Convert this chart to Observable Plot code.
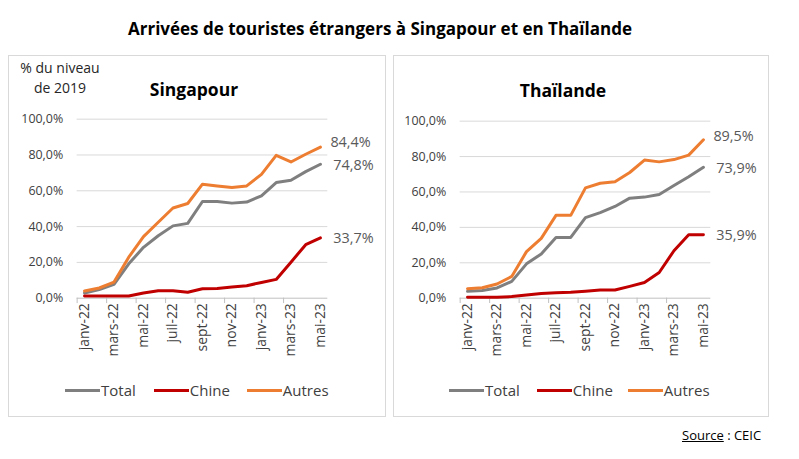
<!DOCTYPE html>
<html>
<head>
<meta charset="utf-8">
<script src="https://cdn.jsdelivr.net/npm/d3@7"></script>
<script src="https://cdn.jsdelivr.net/npm/@observablehq/plot@0.6"></script>
<style>
  html, body { margin: 0; padding: 0; background: #fff; }
  body { width: 799px; height: 459px; position: relative; overflow: hidden; font-family: "Open Sans", sans-serif; color: #595959; }
  #title { position: absolute; top: 17px; left: 0; width: 760px; text-align: center; font-weight: 700; font-size: 17px; color: #000; }
  .panel { position: absolute; border: 1px solid #d9d9d9; box-sizing: border-box; }
  .panel svg { position: absolute; left: 0; top: 0; }
  .ptitle { position: absolute; font-weight: 700; font-size: 17.5px; color: #000; white-space: nowrap; transform: translate(-50%, -50%); }
  .unit { position: absolute; font-size: 14px; color: #262626; text-align: center; line-height: 20px; white-space: nowrap; transform: translateX(-50%); }
  .legend { position: absolute; display: flex; align-items: center; font-size: 15px; color: #404040; white-space: nowrap; }
  .legend .sw { display: inline-block; width: 35px; height: 3px; margin-right: 1px; }
  .legend .item { display: flex; align-items: center; }
  #source { position: absolute; left: 682px; top: 426px; font-size: 13px; color: #000; white-space: nowrap; }
  #source u { text-decoration: underline; }
</style>
</head>
<body>
<div id="title">Arrivées de touristes étrangers à Singapour et en Thaïlande</div>
<div id="source"><u>Source</u> : CEIC</div>
<script>
// ---- Data ----
const months = ["janv-22","févr-22","mars-22","avr-22","mai-22","juin-22","juil-22","août-22","sept-22","oct-22","nov-22","déc-22","janv-23","févr-23","mars-23","avr-23","mai-23"];
const yTicks = [0, 20, 40, 60, 80, 100];
const seriesNames = ["Total", "Chine", "Autres"];
const seriesColors = ["#7f7f7f", "#c00000", "#ed7d31"];

const sgTotal  = [2.9, 4.8, 7.7, 19.2, 28.4, 34.9, 40.4, 41.8, 54.0, 54.0, 53.1, 53.7, 57.2, 64.6, 65.9, 70.7, 74.8];
const sgChine  = [1.2, 1.2, 1.2, 1.2, 2.9, 4.2, 4.2, 3.3, 5.3, 5.4, 6.2, 7.0, 8.8, 10.5, 20.1, 29.9, 33.7];
const sgAutres = [4.0, 5.7, 9.0, 22.9, 34.4, 42.4, 50.4, 52.9, 63.7, 62.7, 61.8, 62.7, 69.2, 79.8, 76.1, 80.4, 84.4];

const thTotal  = [3.9, 4.4, 5.8, 9.5, 19.4, 25.0, 34.3, 34.3, 45.5, 48.3, 51.8, 56.5, 57.1, 58.6, 63.6, 68.6, 73.9];
const thChine  = [0.5, 0.5, 0.6, 0.9, 1.8, 2.6, 3.1, 3.3, 3.9, 4.6, 4.6, 6.7, 8.9, 14.5, 26.8, 35.9, 35.9];
const thAutres = [5.4, 5.9, 8.0, 12.3, 26.3, 33.8, 46.8, 46.8, 62.3, 64.9, 65.8, 71.0, 78.0, 77.0, 78.3, 80.8, 89.5];

// ---- Helpers ----
const fmt = v => v.toFixed(1).replace(".", ",") + "%";
const idx = d3.range(months.length);
const labelIdx = idx.filter(i => i % 2 === 0);
const boundaries = labelIdx.slice(0, -1).map(i => i - 0.5);

function panelPlot(opts) {
  const values = [opts.total, opts.chine, opts.autres];
  const rows = [];
  values.forEach((arr, s) => arr.forEach((v, i) => rows.push({s, i, v})));
  const last = values.map((arr, s) => ({s, i: arr.length - 1, v: arr[arr.length - 1], dx: opts.endDx[s], dy: opts.endDy[s]}));
  return Plot.plot({
    width: opts.width, height: opts.height,
    marginLeft: opts.ml, marginRight: opts.mr, marginTop: opts.mt, marginBottom: opts.mb,
    style: {fontFamily: "Open Sans", fontSize: "12px", color: "#404040", background: "transparent", overflow: "visible"},
    x: {type: "linear", domain: [-0.5, months.length - 0.5]},
    y: {domain: [0, 100]},
    marks: [
      Plot.ruleY(yTicks.filter(d => d > 0), {stroke: "#d9d9d9", strokeWidth: 1}),
      Plot.ruleY([0], {stroke: "#bfbfbf", strokeWidth: 1}),
      Plot.ruleX(boundaries, {y1: 0, y2: -3, stroke: "#bfbfbf", strokeWidth: 1}),
      Plot.axisY({ticks: yTicks, tickSize: 0, tickPadding: 14, tickFormat: fmt, label: null, fontSize: 12.5, fill: "#404040"}),
      Plot.axisX({ticks: labelIdx, tickSize: 0, tickPadding: 5, tickRotate: -90, tickFormat: i => months[i], label: null, fontSize: 14, fill: "#404040"}),
      ...[0, 1, 2].map(s => Plot.line(rows.filter(r => r.s === s), {x: "i", y: "v", stroke: seriesColors[s], strokeWidth: 3, strokeLinejoin: "round"})),
      ...last.map(d => Plot.text([d], {x: "i", y: "v", text: r => fmt(r.v), dx: d.dx, dy: d.dy, textAnchor: "start", fontSize: 14.5, fill: "#595959"}))
    ]
  });
}

function makePanel(cfg) {
  const div = document.createElement("div");
  div.className = "panel";
  Object.assign(div.style, {left: cfg.left + "px", top: cfg.top + "px", width: cfg.width + "px", height: cfg.height + "px"});
  div.appendChild(panelPlot(cfg));
  const t = document.createElement("div");
  t.className = "ptitle";
  t.textContent = cfg.title;
  Object.assign(t.style, {left: cfg.titleX + "px", top: cfg.titleY + "px"});
  div.appendChild(t);
  if (cfg.unit) {
    const u = document.createElement("div");
    u.className = "unit";
    u.innerHTML = cfg.unit;
    Object.assign(u.style, {left: cfg.unitX + "px", top: cfg.unitY + "px"});
    div.appendChild(u);
  }
  const lg = document.createElement("div");
  lg.className = "legend";
  Object.assign(lg.style, {left: cfg.legX + "px", top: cfg.legY + "px"});
  seriesNames.forEach((n, s) => {
    const it = document.createElement("span");
    it.className = "item";
    it.style.marginRight = cfg.legGap[s] + "px";
    const sw = document.createElement("span");
    sw.className = "sw";
    sw.style.background = seriesColors[s];
    it.appendChild(sw);
    const tx = document.createElement("span");
    tx.textContent = n;
    it.appendChild(tx);
    lg.appendChild(it);
  });
  div.appendChild(lg);
  document.body.appendChild(div);
}

makePanel({
  left: 8, top: 55, width: 378, height: 362,
  ml: 68, mr: 58, mt: 63, mb: 119,
  total: sgTotal, chine: sgChine, autres: sgAutres,
  endDx: [13, 13, 10], endDy: [1, 1, -5],
  title: "Singapour", titleX: 185, titleY: 33,
  unit: "% du niveau<br>de 2019", unitX: 51, unitY: 2,
  legX: 56, legY: 324, legGap: [18, 17, 0]
});

makePanel({
  left: 393, top: 55, width: 376, height: 362,
  ml: 66, mr: 58, mt: 65, mb: 119,
  total: thTotal, chine: thChine, autres: thAutres,
  endDx: [13, 13, 10], endDy: [1, 1, -3],
  title: "Thaïlande", titleX: 169, titleY: 34,
  legX: 55, legY: 324, legGap: [17, 15, 0]
});
</script>
</body>
</html>
